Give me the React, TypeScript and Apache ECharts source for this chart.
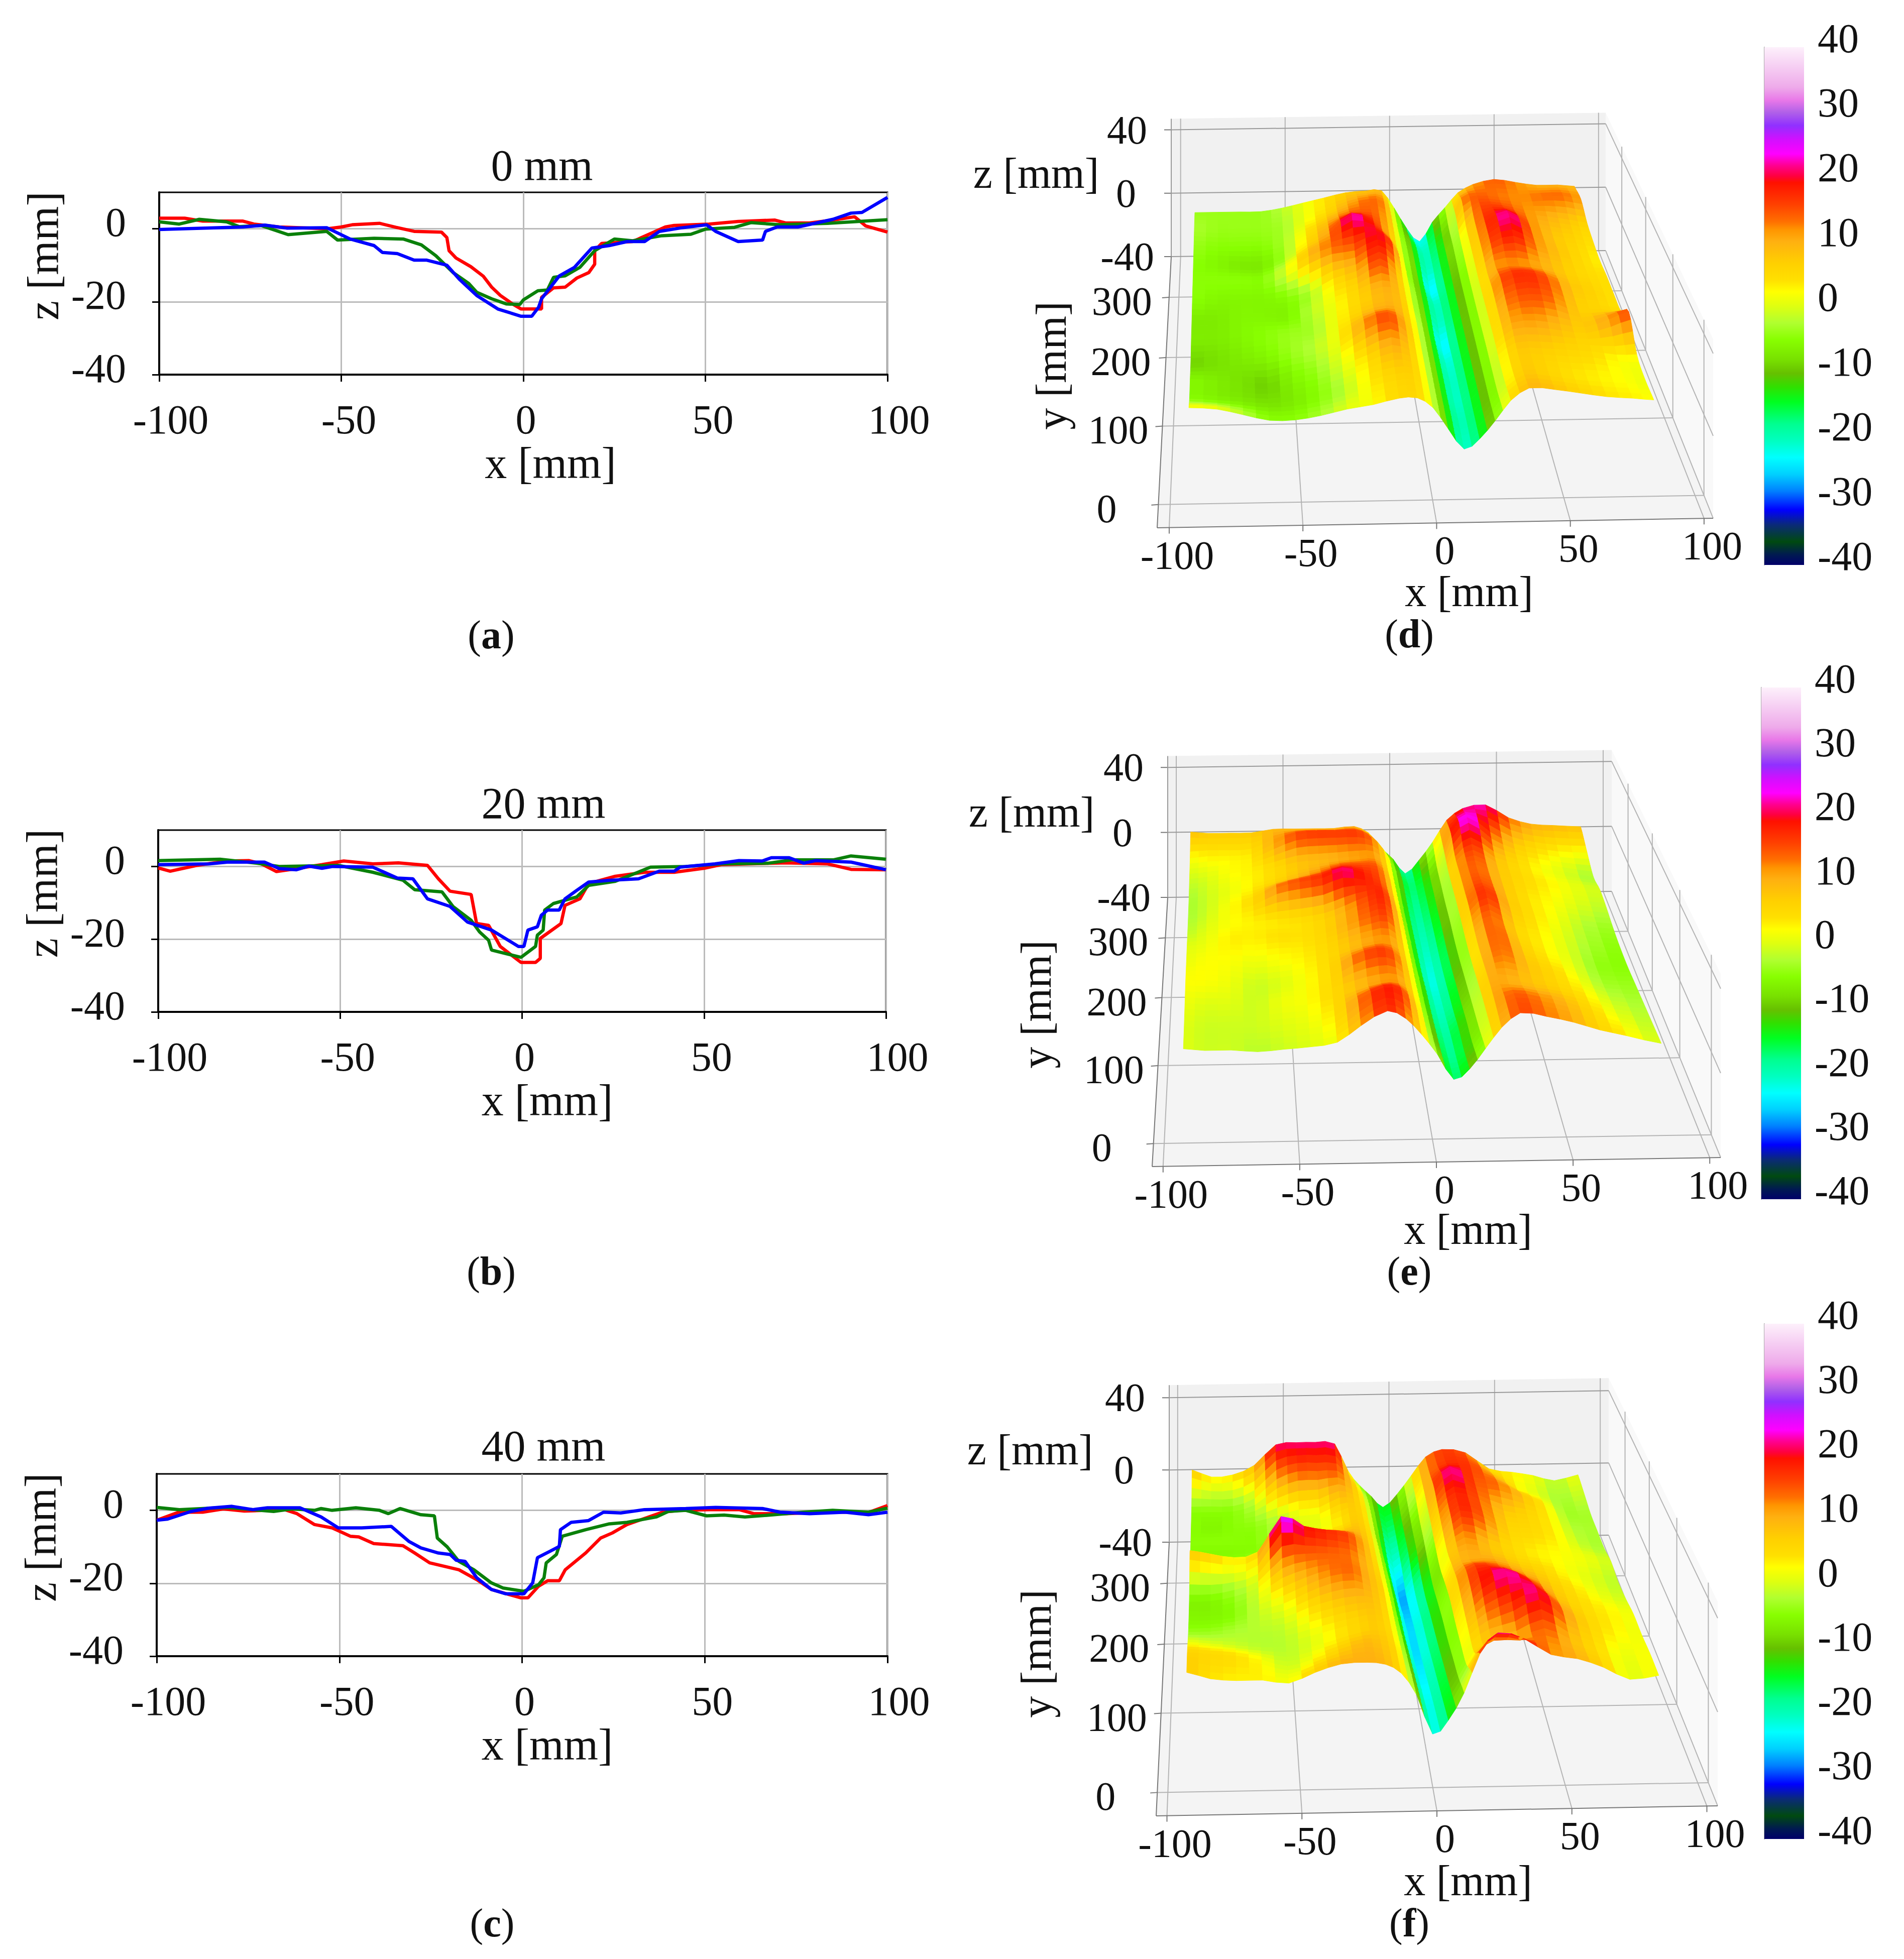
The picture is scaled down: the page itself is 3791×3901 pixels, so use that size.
import React, { useEffect, useRef } from "react";
import * as echarts from "echarts";

const FONT = '"Liberation Serif"';
const RED = "#ff0000", GREEN = "#0a800a", BLUE = "#0000ff";

// ---- profile curves [x, z] ----
const aRed = [[-100,2.9],[-93,2.9],[-88,2.1],[-77,2.1],[-74,1.3],[-67,.5],[-54,0],[-50,.5],[-47,1.1],[-39.5,1.5],[-35,.4],[-30,-.7],[-22.5,-.9],[-21,-2.4],[-20.4,-6],[-18.5,-8],[-14.4,-10.4],[-11,-13],[-8.7,-16],[-6.3,-18.3],[-3,-20.6],[-.6,-22],[5,-22],[5,-18.8],[8.3,-16.2],[11.5,-16],[14.7,-13.5],[18,-12],[19.6,-9.7],[19.6,-6],[21.5,-4],[30,-3.5],[39,.5],[41.4,.9],[51,1.3],[59,2],[69,2.4],[72,1.6],[78.6,1.6],[85,2.4],[91,3.3],[94,.8],[100,-.9]];
const aGreen = [[-100,1.9],[-94.5,1.3],[-89,2.6],[-81.5,1.9],[-78,.6],[-72,.9],[-64.6,-1.6],[-54,-.7],[-51,-3.1],[-41,-2.6],[-33,-2.8],[-28,-4.4],[-24,-7.4],[-19.3,-12],[-15,-15],[-12.8,-17.4],[-8.7,-19.2],[-4.7,-20.6],[-1,-20.8],[0,-19.5],[4,-17],[6.6,-16.8],[8.3,-13.3],[11.5,-12.9],[15.5,-10.6],[19.6,-6],[25,-2.8],[30,-3.3],[38,-1.9],[46,-1.5],[50,-.1],[58,.4],[62.5,1.7],[70.5,1.1],[83.5,1.5],[100,2.5]];
const aBlue = [[-100,-.2],[-77,.5],[-71,1],[-65,.2],[-54,.3],[-47.6,-2.8],[-41,-4.6],[-38.7,-6.5],[-34.6,-6.8],[-30,-8.6],[-26.5,-8.6],[-21,-10],[-17.6,-13.8],[-12.8,-18.3],[-7,-22],[-.6,-24],[2.3,-24],[4.2,-21.5],[5,-19.2],[9.9,-12.9],[14,-10.6],[18.8,-5.3],[23.6,-4.6],[28.5,-3.5],[33.3,-3.5],[37.4,-.7],[43,.2],[50.3,1.1],[52.8,-.7],[59,-3.5],[65.7,-3.1],[66.5,-.7],[69.7,.5],[75.4,.5],[85,2.6],[90,4.3],[93,4.5],[100,8.6]];
const bRed = [[-100,-.4],[-96.7,-1.3],[-89.4,.3],[-81,1.5],[-75,1.6],[-71.6,.7],[-67.5,-1.4],[-62,-.6],[-55,.5],[-49,1.5],[-41,.7],[-34,1],[-26,.3],[-23,-3.4],[-19.8,-6.8],[-14,-7.7],[-12.5,-15.7],[-9.2,-16.2],[-6,-22],[-.3,-26.4],[3.7,-26.4],[5,-25.3],[5,-19.8],[10.7,-15.7],[11.8,-10.7],[15.9,-8.9],[18.3,-4.7],[25.6,-2.7],[33.7,-1.6],[41.8,-1.6],[50,-.5],[54.7,.5],[72.5,1],[84,.7],[90.4,-.8],[100,-.9]];
const bGreen = [[-100,1.6],[-83,2],[-73,.9],[-66.7,0],[-50.5,.3],[-41,-1.6],[-32.7,-3.8],[-29.5,-6.4],[-22,-7],[-19,-11],[-14,-14.8],[-11.7,-18],[-9.2,-20.3],[-8.4,-23],[-.3,-25],[3.7,-22],[4.2,-18.9],[5.8,-17.5],[6.2,-12],[8.6,-10.2],[15,-8.4],[18.3,-5.2],[25.6,-4.1],[35.3,-.2],[45,0],[54.7,.7],[67.7,.9],[74,1.8],[85.5,1.8],[90.4,2.9],[100,2]];
const bBlue = [[-100,.5],[-86,.7],[-81,1.2],[-70.8,1.2],[-66.7,-.6],[-62,-.9],[-58.6,.1],[-55,-.5],[-52,0],[-41,-.2],[-34.3,-3.2],[-30,-3.4],[-26,-8.9],[-19.8,-11],[-15,-15.3],[-8.4,-17.5],[-1,-22],[.5,-22],[1.6,-17.5],[4.2,-16.6],[5.3,-13.4],[7,-12],[10.2,-12],[11.8,-8.9],[15,-6.6],[18.3,-4.3],[24,-3.8],[32,-3.4],[37.7,-1.3],[41.8,-1.3],[43.4,-.2],[53,.7],[59.6,1.6],[66,1.5],[68.5,2.4],[73.4,2.4],[77.4,.9],[80.6,1.6],[90.4,1.2],[100,-.9]];
const cRed = [[-100,-2.7],[-94,-.5],[-87.4,-.5],[-81.8,.4],[-76,-.2],[-65,.2],[-61.6,-.9],[-56.8,-3.9],[-52,-4.8],[-47,-7.1],[-44.7,-7.3],[-40.6,-9.1],[-32.6,-9.7],[-29.4,-11.7],[-25.3,-14.4],[-17.3,-16.3],[-12.4,-19],[-8.4,-21.7],[-3.5,-23.1],[-.3,-24],[1.6,-24],[4.5,-20.8],[7,-19.3],[10.2,-19.3],[11.8,-16.3],[17.4,-11.7],[21.5,-7.6],[24.7,-6.2],[28.7,-3.9],[38.4,-.5],[43.2,0],[51.3,.2],[59.4,.2],[63.4,-.9],[72.3,-.9],[82,-.5],[95,-.5],[100,1.3]];
const cGreen = [[-100,.8],[-93.8,.2],[-81,.8],[-68,-.3],[-63,.4],[-56.8,0],[-55,.5],[-52,0],[-45.5,.7],[-39,0],[-36.6,-.9],[-33.4,.5],[-27.7,-1.2],[-24,-1.5],[-23.2,-7.6],[-20.5,-10],[-17.3,-14],[-13.2,-16.3],[-8.4,-19.9],[-5.2,-21.3],[.5,-22.2],[4.5,-20.4],[6,-18.5],[6.6,-14.4],[9.4,-12.1],[11,-7.1],[17.4,-5.3],[23.9,-3.7],[28.7,-3.3],[36.8,-1.8],[40,-.3],[44.8,0],[50.5,-1.5],[55.3,-1.3],[61,-1.8],[69,-1.2],[77,-.5],[85,0],[94.8,-.5],[100,.6]];
const cBlue = [[-100,-2.7],[-97,-2.4],[-90.6,-.3],[-85.8,.6],[-79.4,1.1],[-73.7,.2],[-69.7,.7],[-60.8,.7],[-55,-1.8],[-50.3,-4.8],[-43.9,-4.8],[-35.8,-4.4],[-31,-8.5],[-27.7,-10.3],[-22.9,-11.7],[-19.7,-12.1],[-18,-13.7],[-15.6,-14],[-12.4,-18.5],[-8.4,-21.7],[-4.4,-22.9],[.5,-22.9],[2.9,-19.9],[4.2,-13],[7.7,-11.2],[10.2,-9.9],[10.5,-5.3],[13.4,-3.3],[18.2,-2.8],[22.3,-.5],[27,-.7],[33.5,.2],[44.8,.5],[53,.8],[65.8,.5],[70.6,-.5],[78.7,-.9],[88.4,-.5],[94.8,-1.2],[100,-.5]];

// ---- surfaces: z [mm] per row (front to back) and per column ----
const surfaceYs = [15,45,75,105,135,165,195,225,255,285,315,348];
const dXs = [-93,-82,-72,-62,-52,-42,-32,-22,-12,-5,1,7,13,19,25,31,38,48,58,68,78,86];
const dZ = [
[2,1,-2,-5,-5,-3,0,2,5,5,0,-11,-21,-16,-7,3,9,8,6,4,3,2],
[-5,-6,-7,-8,-7,-5,-2,3,6,6,0,-11,-20,-16,-8,1,7,6,4,3,2,1],
[-6,-7,-8,-9,-6,-4,0,5,10,7,0,-11,-21,-16,-8,1,7,7,6,5,3,3],
[-9,-8,-7,-6,-4,-2,2,11,15,9,0,-11,-21,-16,-8,2,10,11,9,7,11,15],
[-7,-7,-6,-5,-4,-3,2,7,10,8,0,-11,-22,-16,-8,2,12,15,13,7,6,5],
[-7,-7,-6,-6,-6,-2,2,6,10,8,-1,-11,-24,-16,-8,2,14,17,14,8,6,4],
[-5,-6,-6,-6,-5,-2,5,9,16,9,-1,-11,-21,-16,-8,2,11,12,10,7,5,4],
[-5,-5,-5,-5,0,8,13,15,20,14,-2,-11,-21,-16,-8,3,14,18,12,8,5,3],
[-5,-6,-7,-7,-3,5,12,22,17,9,-2,-11,-24,-16,-7,4,15,22,13,8,6,4],
[-4,-5,-5,-5,-3,3,9,14,14,10,-2,-11,-21,-16,-6,5,15,16,12,10,8,6],
[-3,-4,-4,-4,-3,1,5,10,13,11,-3,-12,-21,-15,-6,11,14,13,12,13,13,11],
[-4,-4,-4,-4,-2,1,4,7,8,8,-3,-16,-24,-12,-3,6,11,14,12,10,10,9],
];
const eXs = [-93,-85,-75,-65,-55,-45,-35,-26,-16,-9,-3,3,9,15,21,27,34,44,54,64,74,87];
const eZ = [
[0,-1,-1,-2,-1,0,2,10,17,13,5,-5,-17,-12,-2,8,15,13,10,6,3,-1],
[0,-1,-1,-1,0,1,4,12,18,16,6,-7,-18,-14,-4,9,14,12,9,5,1,-2],
[1,0,0,-1,1,2,5,8,11,11,5,-8,-19,-14,-5,9,10,8,6,3,-1,-3],
[2,2,1,-1,0,2,5,12,16,14,5,-9,-20,-16,-6,8,13,8,5,1,-3,-4],
[1,2,2,1,2,3,5,8,11,11,5,-9,-21,-17,-7,7,14,7,3,0,-4,-5],
[0,1,3,3,4,4,6,10,14,15,6,-10,-22,-18,-8,8,14,6,3,0,-3,-5],
[-2,0,2,3,4,5,7,11,16,17,7,-10,-21,-18,-8,10,17,8,4,1,-2,-4],
[-3,-1,2,5,12,15,17,21,18,15,6,-10,-20,-17,-7,10,15,8,4,2,0,-2],
[-3,-1,1,3,6,9,12,15,15,14,6,-10,-19,-16,-7,10,14,8,5,3,1,-1],
[-1,0,2,3,5,8,9,10,11,11,5,-9,-18,-15,-6,10,17,9,5,2,0,-3],
[2,3,3,4,10,15,16,16,16,13,5,-8,-17,-14,-5,15,24,15,8,5,3,2],
[8,7,7,7,9,9,9,9,10,6,-3,-10,-19,-11,0,13,20,22,14,10,9,8],
];
const fXs = [-93,-84,-74,-64,-54,-44,-34,-24,-17,-11,-5,1,7,13,19,26,36,46,56,66,76,87];
const fZ = [
[7,4,3,3,1.5,6,9.5,10,9,5,-5,-22,-16,-4,13,22,19,12,10,6,.5,2],
[6,5,4,2,-1,2,6,9,8,5,-6,-22,-17,-7,4,9,10,14,9,5,1,2],
[1,0,-1,-2,-2,0,3,6,7,4,-7,-23,-18,-8,5,12,17,21,12,6,3,1],
[-4,-4,-3,-2,-1,3,6,8,8,4,-8,-24,-19,-9,7,17,22,17,9,5,3,1],
[-6,-6,-5,-1,3,8,12,13,9,5,-9,-25,-20,-9,9,16,15,11,7,4,1,-1],
[-5,-5,-3,1,12,14,14,13,9,4,-9,-25,-20,-10,7,10,10,7,5,2,0,-2],
[7,5,3,6,24,19,17,15,10,3,-9,-26,-21,-11,5,12,8,5,3,2,1,-1],
[-4,-5,-5,-4,-1,2,5,8,8,3,-10,-27,-20,-9,7,17,13,6,5,3,-1,-3],
[-5,-5,-5,-5,-2,0,1,4,7,2,-11,-24,-15,-6,10,18,14,8,6,3,-2,-3],
[-5,-6,-5,-4,-1,2,3,8,7,2,-10,-20,-13,-4,13,22,15,13,8,3,-3,-3],
[-4,-4,-4,0,10,14,14,14,8,1,-9,-17,-11,0,12,17,16,10,3,0,-3,-1],
[7,3,4,9,20,21,21,20,5,-3,-9,-15,-8,2,12,16,14,5,3,1,-2,1],
];

// ---- axis ticks ----
const xTicks3d = [-100,-50,0,50,100];
const yTicks3d = [0,100,200,300];
const zTicks3d = [-40,0,40];
const colorStops: [number,string][] = [[-40,"#00006a"],[-38.4,"#001a50"],[-36.4,"#004a10"],[-33.8,"#0a2a78"],[-31.5,"#0000ff"],[-28.6,"#0080ff"],[-26,"#00d0ff"],[-23.4,"#00ffff"],[-20.8,"#00ffc0"],[-18.2,"#00ff90"],[-14.8,"#00ff20"],[-12.5,"#30e000"],[-10.4,"#66c000"],[-8.3,"#78e000"],[-5.2,"#88ff00"],[-2.6,"#b0ff30"],[0,"#dfff10"],[2.2,"#ffff00"],[4,"#ffe000"],[6.6,"#ffd000"],[10,"#ffb010"],[11.8,"#ff9500"],[13,"#ff7000"],[15.7,"#ff4000"],[19.1,"#ff1000"],[20.1,"#ff0040"],[21.7,"#ff0090"],[23.5,"#ff00ff"],[25.8,"#d010ff"],[27.9,"#9030ff"],[29.9,"#b060e8"],[31.8,"#e878e8"],[33.8,"#eeaaea"],[40,"#fdf0fb"]];

function hex(c: string) { return [1,3,5].map(i => parseInt(c.slice(i,i+2),16)); }
function colorOf(v: number) {
  for (let i = 1; i < colorStops.length; i++) {
    if (v <= colorStops[i][0]) {
      const [a,ca] = colorStops[i-1], [b,cb] = colorStops[i];
      const t = Math.max(0,(v-a)/(b-a)); const A = hex(ca), B = hex(cb);
      return `rgb(${A.map((k,n)=>Math.round(k+(B[n]-k)*t)).join(",")})`;
    }
  }
  return "#fdf0fb";
}

const PERSP = 1370, SUB_X = 2, SUB_Y = 4;
const view3d = [
 { xs:dXs, zs:dZ, xc:13, skew:0, FL:[2304,1051], FR:[3411,1032], BL:[2332,511], BR:[3197,499], vz:4.02, zTop:47,
   xRange:[-104.5,103.4], yRange:[-27,375], yDx:[-75,-20,-22,-26], zDx:[-34,-70,-48],
   zName:[2063,345], yName:[2093,728], xName:[2925,1178] },
 { xs:eXs, zs:eZ, xc:9, skew:-3, FL:[2294,2323], FR:[3426,2305], BL:[2325,1787], BR:[3209,1775], vz:4.12, zTop:47,
   xRange:[-104,104], yRange:[-27,375], yDx:[-75,-20,-22,-26], zDx:[-34,-70,-48],
   zName:[2054,1617], yName:[2063,2000], xName:[2923,2448] },
 { xs:fXs, zs:fZ, xc:1, skew:-5, FL:[2302,3616], FR:[3420,3596], BL:[2328,3071], BR:[3203,3057], vz:4.58, zTop:47,
   xRange:[-104,104], yRange:[-27,375], yDx:[-75,-20,-22,-26], zDx:[-34,-70,-48],
   zName:[2051,2887], yName:[2063,3293], xName:[2923,3745] },
];

function project(p: any, x: number, y: number, z: number): number[] {
  const [yF,yB] = p.yRange, wF = 1+yF/PERSP, wB = 1+yB/PERSP;
  const u = (y-yF)/(yB-yF), a = wF*(1-u), b = wB*u, w = a+b;
  const t = (x-p.xRange[0])/(p.xRange[1]-p.xRange[0]);
  const lx=(p.FL[0]*a+p.BL[0]*b)/w, ly=(p.FL[1]*a+p.BL[1]*b)/w, rx=(p.FR[0]*a+p.BR[0]*b)/w, ry=(p.FR[1]*a+p.BR[1]*b)/w;
  return [lx+(rx-lx)*t, ly+(ry-ly)*t-(z+40)*p.vz/w];
}
function skewX(p: any, x: number, y: number) {
  return x + p.skew*(y/350)*Math.max(0,1-Math.abs(x-p.xc)/50);
}

const OVERLAY = 6;

function boxRender(p: any) {
  return (_: any, api: any) => {
    const P = (x:number,y:number,z:number) => api.coord(project(p,x,y,z));
    const [x0,x1] = p.xRange, [y0,y1] = p.yRange, zT = p.zTop;
    const children: any[] = [];
    const poly = (pts:number[][], fill:string) => children.push({type:"polygon",shape:{points:pts},style:{fill,stroke:"none"}});
    const line = (a:number[],b:number[],stroke="#b4b4b4",lineWidth=2) => children.push({type:"line",shape:{x1:a[0],y1:a[1],x2:b[0],y2:b[1]},style:{stroke,lineWidth}});
    const text = (s:string,x:number,y:number,align:string) => children.push({type:"text",style:{text:s,x,y,align,verticalAlign:"middle",fontSize:80,fontFamily:FONT,fill:"#111"}});
    poly([P(x1,y1,-40),P(x1,y1,zT),P(x1,y0,zT),P(x1,y0,-40)],"#f9f9f9");
    poly([P(x0,y1,-40),P(x0,y1,zT),P(x1,y1,zT),P(x1,y1,-40)],"#f1f1f1");
    poly([P(x0,y0,-40),P(x0,y1,-40),P(x1,y1,-40),P(x1,y0,-40)],"#f4f4f4");
    xTicks3d.forEach(x => {
      line(P(x,y0,-40),P(x,y1,-40)); line(P(x,y1,-40),P(x,y1,zT));
      const f = P(x,y0,-40); line(f,[f[0],f[1]+12],"#777");
      text(String(x),f[0]+16,f[1]+55,"center");
    });
    yTicks3d.forEach((y,i) => {
      line(P(x0,y,-40),P(x1,y,-40)); line(P(x1,y,-40),P(x1,y,zT));
      const f = P(x0,y,-40); line(f,[f[0]-14,f[1]+1],"#777");
      text(String(y),f[0]+p.yDx[i]-8,f[1]+8,"right");
    });
    zTicks3d.forEach((z,i) => {
      line(P(x0,y1,z),P(x1,y1,z),"#999"); line(P(x1,y1,z),P(x1,y0,z));
      const f = P(x0,y1,z); line(f,[f[0]-14,f[1]],"#777");
      text(String(z),f[0]+p.zDx[i],f[1],"right");
    });
    line(P(x0,y0,-40),P(x1,y0,-40),"#777"); line(P(x0,y0,-40),P(x0,y1,-40),"#777"); line(P(x0,y1,-40),P(x0,y1,zT),"#999");
    return {type:"group",children};
  };
}

const cr=(a:number,b:number,c:number,d:number,t:number)=>0.5*(2*b+(c-a)*t+(2*a-5*b+4*c-d)*t*t+(3*b-a-3*c+d)*t*t*t);
function surfaceRender(p: any) {
  const nr=surfaceYs.length, nc=p.xs.length;
  const at=(r:number,i:number)=>p.zs[Math.max(0,Math.min(nr-1,r))][Math.max(0,Math.min(nc-1,i))];
  return (params: any, api: any) => {
    const [r,i] = surfaceCells(p)[params.dataIndex];
    const ya=surfaceYs[r], yb=surfaceYs[r+1], xa=p.xs[i], xb=p.xs[i+1];
    const Z=(s:number,t:number)=>{
      const v=[-1,0,1,2].map(k=>cr(at(r+k,i-1),at(r+k,i),at(r+k,i+1),at(r+k,i+2),s));
      return cr(v[0],v[1],v[2],v[3],t);
    };
    const pt=(s:number,t:number)=>{ const y=ya+(yb-ya)*t; const x=skewX(p,xa+(xb-xa)*s,y); return api.coord(project(p,x,y,Z(s,t))); };
    const children:any[]=[];
    for(let b=SUB_Y-1;b>=0;b--) for(let a=0;a<SUB_X;a++){
      const s0=a/SUB_X,s1=(a+1)/SUB_X,t0=b/SUB_Y,t1=(b+1)/SUB_Y;
      const c=colorOf(Z((s0+s1)/2,(t0+t1)/2));
      children.push({type:"polygon",shape:{points:[pt(s0,t0),pt(s1,t0),pt(s1,t1),pt(s0,t1)]},style:{fill:c,stroke:c,lineWidth:1}});
    }
    return {type:"group",children};
  };
}
function surfaceCells(p:any){
  if(p._cells) return p._cells;
  const out:number[][]=[];
  for(let r=surfaceYs.length-2;r>=0;r--) for(let i=0;i<p.xs.length-1;i++) out.push([r,i]);
  p._cells=out; return out;
}

const lineSpec = [
 { title:"0 mm", series:[aRed,aGreen,aBlue], box:[317,383,1767,746], nameDx:108, zDy:110, titleAt:[1079,333] },
 { title:"20 mm", series:[bRed,bGreen,bBlue], box:[315,1653,1764,2015], nameDx:100, zDy:110, titleAt:[1082,1603] },
 { title:"40 mm", series:[cRed,cGreen,cBlue], box:[312,2935,1767,3298], nameDx:100, zDy:110, titleAt:[1082,2883] },
];
const captions: [string,number,number][] = [["a",978,1264],["b",978,2531],["c",980,3829],["d",2806,1262],["e",2806,2531],["f",2806,3829]];
const colorBoxes = [[3513,94,3592,1125],[3507,1369,3586,2388],[3513,2636,3592,3662]];
const tickShift: Record<string,string> = {"-100":"a","100":"a","-50":"b","50":"b","0":"c"};
const tickRich = (l:number)=>({fontSize:82,fontFamily:FONT,color:"#111",padding:[0,0,0,l]});

export default function App() {
  const ref = useRef<HTMLDivElement>(null);
  useEffect(() => {
    const chart = echarts.init(ref.current!, null, { renderer: "svg" });
    const grid:any[]=[], xAxis:any[]=[], yAxis:any[]=[], series:any[]=[];
    lineSpec.forEach((s,i)=>{
      const [l,t,r,b]=s.box;
      grid.push({left:l,top:t,width:r-l,height:b-t,show:true,borderColor:"#000",borderWidth:3,backgroundColor:"#fff"});
      xAxis.push({gridIndex:i,type:"value",min:-100,max:100,interval:50,name:"x [mm]",nameLocation:"middle",nameGap:132,
        nameTextStyle:{fontSize:88,fontFamily:FONT,color:"#111",padding:[0,0,0,s.nameDx]},
        axisLine:{onZero:false,lineStyle:{color:"#000",width:4}},axisTick:{length:14,lineStyle:{color:"#000",width:3}},
        axisLabel:{margin:48,hideOverlap:false,showMinLabel:true,showMaxLabel:true,
          formatter:(v:number)=>`{${tickShift[String(v)]}|${v}}`,rich:{a:tickRich(46),b:tickRich(30),c:tickRich(10)}},
        splitLine:{show:true,lineStyle:{color:"#bbb",width:3}}});
      yAxis.push({gridIndex:i,type:"value",min:-40,max:10,interval:20,name:"z [mm]",nameLocation:"middle",nameGap:187,
        nameTextStyle:{fontSize:88,fontFamily:FONT,color:"#111",padding:[0,0,0,s.zDy]},
        axisLine:{onZero:false,lineStyle:{color:"#000",width:4}},
        axisTick:{length:14,lineStyle:{color:"#000",width:3},customValues:[-40,-20,0]},
        axisLabel:{fontSize:82,fontFamily:FONT,color:"#111",margin:66,verticalAlign:"bottom",lineHeight:26,customValues:[-40,-20,0]},
        splitLine:{show:true,lineStyle:{color:"#bbb",width:3}}});
      [RED,GREEN,BLUE].forEach((c,k)=>series.push({type:"line",xAxisIndex:i,yAxisIndex:i,data:s.series[k],showSymbol:false,silent:true,lineStyle:{color:c,width:6.5},z:3+k}));
    });
    colorBoxes.forEach((b,i)=>{
      const g=3+i;
      grid.push({left:b[0],top:b[1],width:b[2]-b[0],height:b[3]-b[1]});
      xAxis.push({gridIndex:g,type:"value",min:0,max:1,show:false});
      yAxis.push({gridIndex:g,type:"value",min:-40,max:40,interval:10,position:"right",
        axisLine:{show:true,lineStyle:{color:"#aaa",width:2}},axisTick:{show:false},splitLine:{show:false},
        axisLabel:{fontSize:82,fontFamily:FONT,color:"#111",margin:27,verticalAlign:"bottom",lineHeight:36,showMinLabel:true,showMaxLabel:true}});
      series.push({type:"custom",xAxisIndex:g,yAxisIndex:g,silent:true,data:[[0,-40,1,40]],encode:{x:[0,2],y:[1,3]},
        renderItem:(_:any,api:any)=>{
          const a=api.coord([0,40]),c=api.coord([1,-40]);
          return {type:"rect",shape:{x:a[0],y:a[1],width:c[0]-a[0],height:c[1]-a[1]},style:{fill:new echarts.graphic.LinearGradient(0,1,0,0,colorStops.map(([v,color])=>({offset:(v+40)/80,color})))}};
        }});
    });
    grid.push({left:0,top:0,width:3791,height:3901});
    xAxis.push({gridIndex:OVERLAY,type:"value",min:0,max:3791,show:false});
    yAxis.push({gridIndex:OVERLAY,type:"value",min:0,max:3901,inverse:true,show:false});
    view3d.forEach(p=>{
      series.push({type:"custom",xAxisIndex:OVERLAY,yAxisIndex:OVERLAY,silent:true,z:1,clip:false,data:[[0,0]],renderItem:boxRender(p)});
      series.push({type:"custom",xAxisIndex:OVERLAY,yAxisIndex:OVERLAY,silent:true,z:2,clip:false,data:surfaceCells(p).map((c:number[])=>[c[0],c[1]]),renderItem:surfaceRender(p)});
    });
    const textStyle={fontSize:86,fontFamily:FONT,fill:"#111",align:"center",verticalAlign:"middle"};
    const graphic:any[]=[];
    view3d.forEach(p=>{
      graphic.push({type:"text",x:p.zName[0],y:p.zName[1],style:{...textStyle,text:"z [mm]"}});
      graphic.push({type:"text",x:p.yName[0],y:p.yName[1],rotation:Math.PI/2,style:{...textStyle,text:"y [mm]"}});
      graphic.push({type:"text",x:p.xName[0],y:p.xName[1],style:{...textStyle,text:"x [mm]"}});
    });
    captions.forEach(([c,x,y])=>graphic.push({type:"text",x,y,style:{align:"center",verticalAlign:"middle",text:`{r|(}{b|${c}}{r|)}`,rich:{r:{fontSize:80,fontFamily:FONT,fill:"#111"},b:{fontSize:80,fontFamily:FONT,fontWeight:"bold",fill:"#111"}}}}));
    chart.setOption({
      animation:false,backgroundColor:"#fff",
      title:lineSpec.map(s=>({text:s.title,left:s.titleAt[0],top:s.titleAt[1]-48,textAlign:"center",padding:0,textStyle:{fontSize:88,fontFamily:FONT,fontWeight:"normal",color:"#111"}})),
      grid,xAxis,yAxis,series,graphic,
    });
    return ()=>chart.dispose();
  },[]);
  return <div ref={ref} style={{position:"absolute",left:0,top:0,width:3791,height:3901}}/>;
}
